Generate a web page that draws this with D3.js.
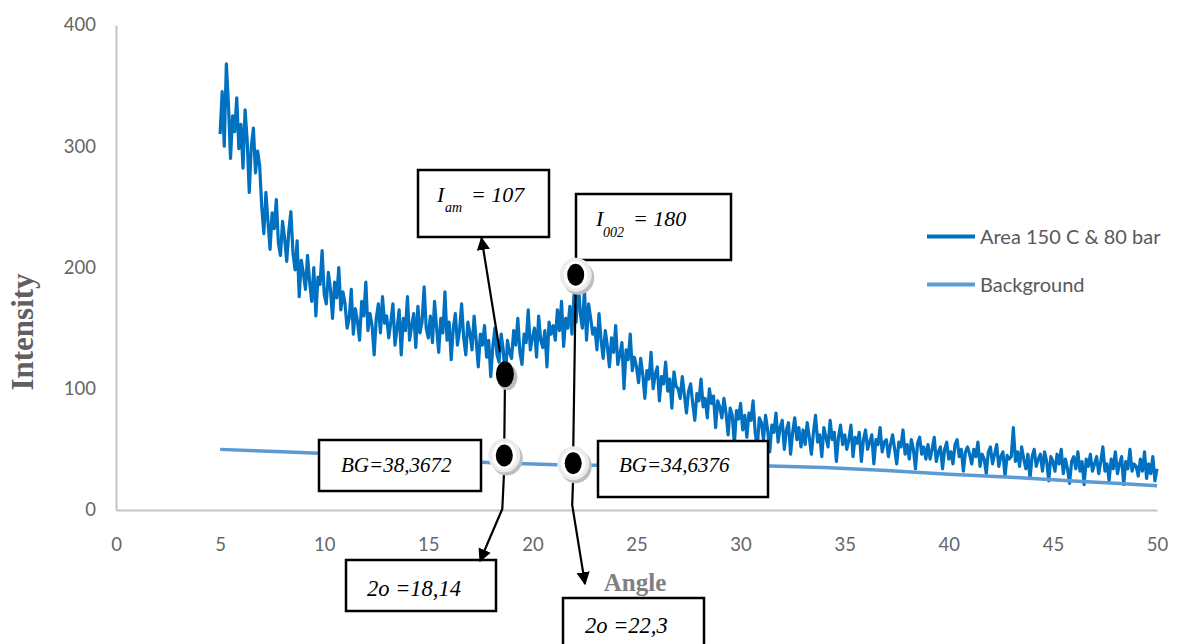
<!DOCTYPE html>
<html>
<head>
<meta charset="utf-8">
<script src="https://cdn.jsdelivr.net/npm/d3@7"></script>
<style>
  body { margin: 0; background: #fff; }
  .tick text { font-family: Lato, "Open Sans", sans-serif; font-size: 18.5px; fill: #666; }
  .note { font-family: "Liberation Serif", "Times New Roman", serif; font-style: italic; fill: #000; }
</style>
</head>
<body>
<div id="chart"></div>
<script>
(function () {

  // ---- data -------------------------------------------------------------

  // scan grid of the diffractogram (degrees 2-theta)
  const startAngle = 5;
  const angleStep = 0.1;

  // measured intensity, one value per grid step (5.0 ... 50.0), 2 degrees per row
  const intensity = [
    310, 345, 300, 368, 335, 290, 325, 312, 340, 298, 318, 282, 330, 305, 262, 300, 315, 278, 296, 284,
    250, 228, 262, 238, 215, 245, 232, 256, 220, 210, 238, 224, 205, 230, 246, 212, 198, 222, 176, 206,
    195, 182, 210, 188, 172, 200, 160, 192, 186, 214, 178, 170, 196, 182, 158, 188, 175, 200, 165, 180,
    170, 150, 158, 182, 145, 166, 155, 140, 172, 160, 188, 148, 162, 152, 128, 158, 170, 146, 176, 154,
    160, 142, 155, 170, 136, 150, 165, 128, 158, 148, 176, 140, 152, 162, 134, 168, 146, 155, 184, 150,
    142, 160, 138, 172, 150, 130, 158, 146, 180, 140, 155, 124, 150, 162, 136, 148, 170, 142, 128, 155,
    146, 132, 160, 140, 118, 145, 136, 152, 126, 140, 110, 135, 150, 128, 122, 145, 132, 106, 140, 130,
    125, 148, 136, 158, 130, 120, 145, 138, 165, 132, 142, 150, 126, 160, 140, 134, 148, 118, 155, 145,
    152, 140, 165, 148, 172, 135, 158, 150, 168, 145, 178, 155, 190, 162, 150, 182, 140, 170, 158, 145,
    150, 132, 162, 140, 125, 148, 135, 118, 142, 130, 152, 120, 128, 138, 100, 132, 124, 145, 115, 126,
    118, 105, 125, 112, 92, 115, 108, 130, 100, 112, 118, 90, 110, 104, 122, 98, 108, 84, 114, 102,
    100, 92, 110, 95, 80, 98, 104, 88, 74, 96, 90, 108, 85, 92, 76, 100, 88, 94, 68, 90,
    85, 76, 92, 80, 62, 84, 78, 54, 82, 75, 88, 66, 78, 60, 80, 74, 90, 64, 52, 76,
    72, 58, 78, 66, 48, 70, 64, 80, 56, 68, 74, 50, 66, 72, 46, 64, 76, 58, 68, 52,
    66, 54, 72, 60, 46, 64, 78, 56, 62, 44, 68, 60, 52, 74, 58, 64, 40, 60, 70, 54,
    62, 50, 58, 70, 44, 60, 55, 64, 40, 58, 66, 50, 56, 62, 38, 58, 54, 68, 48, 56,
    58, 44, 54, 62, 50, 38, 56, 52, 66, 46, 54, 42, 58, 50, 34, 55, 60, 46, 52, 42,
    54, 42, 50, 60, 40, 48, 52, 34, 50, 56, 42, 48, 38, 54, 58, 44, 50, 32, 48, 52,
    46, 38, 50, 44, 56, 36, 46, 42, 30, 48, 52, 38, 46, 54, 36, 44, 48, 28, 45, 42,
    44, 68, 40, 48, 36, 52, 42, 34, 46, 26, 44, 50, 36, 42, 46, 32, 48, 40, 24, 44,
    40, 32, 46, 38, 50, 30, 42, 34, 22, 40, 44, 34, 48, 32, 40, 21, 42, 36, 46, 32,
    38, 44, 30, 40, 52, 32, 38, 24, 42, 34, 48, 30, 38, 44, 21, 40, 34, 50, 32, 38,
    36, 28, 42, 32, 48, 26, 38, 30, 44, 24, 34
  ];

  // background line
  const bgAngles = [5, 8, 10, 13, 16, 18, 20, 22, 25, 28, 31, 34, 37, 40, 43, 46, 48, 50];
  const bgValues = [50, 48, 46.5, 44, 41, 39, 38, 37, 37, 36.5, 36.5, 35, 32.5, 29.5, 27, 24, 22, 20];

  // marked points (I_am, I_002, and the background under each)
  const markerAngles = [18.68, 22.08, 18.65, 21.96];
  const markerValues = [112, 194, 45, 38.5];

  const seriesNames = ['Area 150 C & 80 bar', 'Background'];
  const xTicks = [0, 5, 10, 15, 20, 25, 30, 35, 40, 45, 50];
  const yTicks = [0, 100, 200, 300, 400];

  // ---- layout -------------------------------------------------------------

  const width = 1186;
  const height = 644;
  const margin = { top: 25, right: 29, bottom: 134, left: 116 };

  const svg = d3.select('#chart')
    .append('svg')
    .attr('width', width)
    .attr('height', height);

  const x = d3.scaleLinear().domain([0, 50]).range([margin.left, width - margin.right]);
  const y = d3.scaleLinear().domain([0, 400]).range([height - margin.bottom, margin.top]);

  // axes: grey baseline, no tick marks
  const yAxis = svg.append('g')
    .attr('transform', `translate(${margin.left},0)`)
    .call(d3.axisLeft(y).tickValues(yTicks).tickSize(0).tickPadding(20));

  const xAxis = svg.append('g')
    .attr('transform', `translate(0,${height - margin.bottom})`)
    .call(d3.axisBottom(x).tickValues(xTicks).tickSize(0).tickPadding(28));

  [xAxis, yAxis].forEach(a => a.select('.domain').attr('stroke', '#c4c4c4').attr('stroke-width', 2));

  // axis titles
  svg.append('text')
    .attr('x', 635)
    .attr('y', 591)
    .attr('text-anchor', 'middle')
    .style('font-family', '"Liberation Serif", "Times New Roman", serif')
    .style('font-weight', 'bold')
    .style('font-size', '25px')
    .style('fill', '#808080')
    .text('Angle');

  svg.append('text')
    .attr('transform', 'translate(33,332) rotate(-90)')
    .attr('text-anchor', 'middle')
    .style('font-family', '"Liberation Serif", "Times New Roman", serif')
    .style('font-weight', 'bold')
    .style('font-size', '31px')
    .style('fill', '#606060')
    .text('Intensity');

  // ---- series ---------------------------------------------------------------

  const scan = intensity.map((v, i) => [startAngle + i * angleStep, v]);
  const bg = bgAngles.map((a, i) => [a, bgValues[i]]);

  const line = d3.line()
    .x(d => x(d[0]))
    .y(d => y(d[1]));

  svg.append('path')
    .datum(scan)
    .attr('d', line)
    .attr('fill', 'none')
    .attr('stroke', '#0070C0')
    .attr('stroke-width', 3.2)
    .attr('stroke-linejoin', 'round');

  svg.append('path')
    .datum(bg)
    .attr('d', line)
    .attr('fill', 'none')
    .attr('stroke', '#5B9BD5')
    .attr('stroke-width', 3.5);

  // legend
  const legendColors = ['#0070C0', '#5B9BD5'];
  const legend = svg.append('g');
  seriesNames.forEach((name, i) => {
    const ly = 236.5 + i * 48;
    legend.append('line')
      .attr('x1', 927).attr('x2', 975)
      .attr('y1', ly).attr('y2', ly)
      .attr('stroke', legendColors[i])
      .attr('stroke-width', 4);
    legend.append('text')
      .attr('x', 980)
      .attr('y', ly + 7.5)
      .style('font-family', 'Lato, "Open Sans", sans-serif')
      .style('font-size', '20px')
      .style('fill', '#595959')
      .text(name);
  });

  // ---- annotation overlay -------------------------------------------------

  const defs = svg.append('defs');
  defs.append('marker')
    .attr('id', 'arrow')
    .attr('viewBox', '0 0 10 10')
    .attr('refX', 9)
    .attr('refY', 5)
    .attr('markerWidth', 6)
    .attr('markerHeight', 6.5)
    .attr('orient', 'auto')
    .append('path')
    .attr('d', 'M0,0 L10,5 L0,10 z')
    .attr('fill', '#000');

  // callout boxes (white filled, black border)
  const boxes = [
    { x: 418, y: 170, w: 131, h: 67 },
    { x: 576, y: 194, w: 155, h: 66 },
    { x: 319, y: 440, w: 162, h: 51 },
    { x: 598, y: 441, w: 170, h: 56 },
    { x: 346, y: 560, w: 150, h: 51 },
    { x: 563, y: 598, w: 141, h: 60 }
  ];
  svg.append('g')
    .selectAll('rect')
    .data(boxes)
    .join('rect')
    .attr('x', d => d.x)
    .attr('y', d => d.y)
    .attr('width', d => d.w)
    .attr('height', d => d.h)
    .attr('fill', '#fff')
    .attr('stroke', '#000')
    .attr('stroke-width', 2.5);

  // callout texts
  const iam = svg.append('text').attr('class', 'note').style('font-size', '22px');
  iam.append('tspan').attr('x', 437).attr('y', 202).text('I');
  iam.append('tspan').attr('x', 445).attr('y', 212).style('font-size', '14px').text('am');
  iam.append('tspan').attr('x', 471).attr('y', 202).text('= 107');

  const i002 = svg.append('text').attr('class', 'note').style('font-size', '22px');
  i002.append('tspan').attr('x', 596).attr('y', 226).text('I');
  i002.append('tspan').attr('x', 603).attr('y', 237).style('font-size', '14px').text('002');
  i002.append('tspan').attr('x', 633).attr('y', 226).text('= 180');

  const plainNotes = [
    { x: 341, y: 472, size: 21, text: 'BG=38,3672' },
    { x: 619, y: 472, size: 21, text: 'BG=34,6376' },
    { x: 367, y: 596, size: 22.5, text: '2o =18,14' },
    { x: 585, y: 633, size: 22.5, text: '2o =22,3' }
  ];
  svg.append('g')
    .selectAll('text')
    .data(plainNotes)
    .join('text')
    .attr('class', 'note')
    .attr('x', d => d.x)
    .attr('y', d => d.y)
    .style('font-size', d => d.size + 'px')
    .text(d => d.text);

  // marker positions in pixels
  const p = markerAngles.map((a, i) => [x(a), y(markerValues[i])]);

  const leader = d3.line();
  const leaders = svg.append('g')
    .attr('fill', 'none')
    .attr('stroke', '#000')
    .attr('stroke-width', 2.2);

  // I_am dot up to its box
  leaders.append('path')
    .attr('d', leader([[p[0][0] - 5, p[0][1] - 22], [481.5, 238]]))
    .attr('marker-end', 'url(#arrow)');
  // I_am dot down through BG dot to 2theta box
  leaders.append('path')
    .attr('d', leader([[p[0][0], p[0][1] + 12], [p[2][0], p[2][1] - 12]]));
  leaders.append('path')
    .attr('d', leader([[p[2][0], p[2][1] + 12], [p[2][0] - 2, 509], [480, 561]]))
    .attr('marker-end', 'url(#arrow)');
  // I_002 dot down through BG dot to 2theta box
  leaders.append('path')
    .attr('d', leader([[p[1][0], p[1][1] + 10], [p[3][0], p[3][1] - 12]]));
  leaders.append('path')
    .attr('d', leader([[p[3][0], p[3][1] + 12], [p[3][0] - 1, 505], [585, 584]]))
    .attr('marker-end', 'url(#arrow)');

  // dots: grey shadow, light halo, black centre
  const dots = svg.append('g')
    .selectAll('g')
    .data(p)
    .join('g')
    .attr('transform', d => `translate(${d[0]},${d[1]})`);

  dots.append('ellipse')
    .attr('cx', 2.5).attr('cy', 3)
    .attr('rx', (d, i) => i === 0 ? 10 : 16)
    .attr('ry', (d, i) => i === 0 ? 13 : 17)
    .attr('fill', '#bdbdbd');
  dots.filter((d, i) => i > 0).append('ellipse')
    .attr('rx', 16).attr('ry', 17)
    .attr('fill', '#ececec');
  dots.filter((d, i) => i > 0).append('ellipse')
    .attr('rx', 12).attr('ry', 13.5)
    .attr('fill', '#fff');
  dots.append('ellipse')
    .attr('rx', (d, i) => i === 0 ? 9 : 8.5)
    .attr('ry', (d, i) => i === 0 ? 13 : 11)
    .attr('fill', '#000');

})();
</script>
</body>
</html>
